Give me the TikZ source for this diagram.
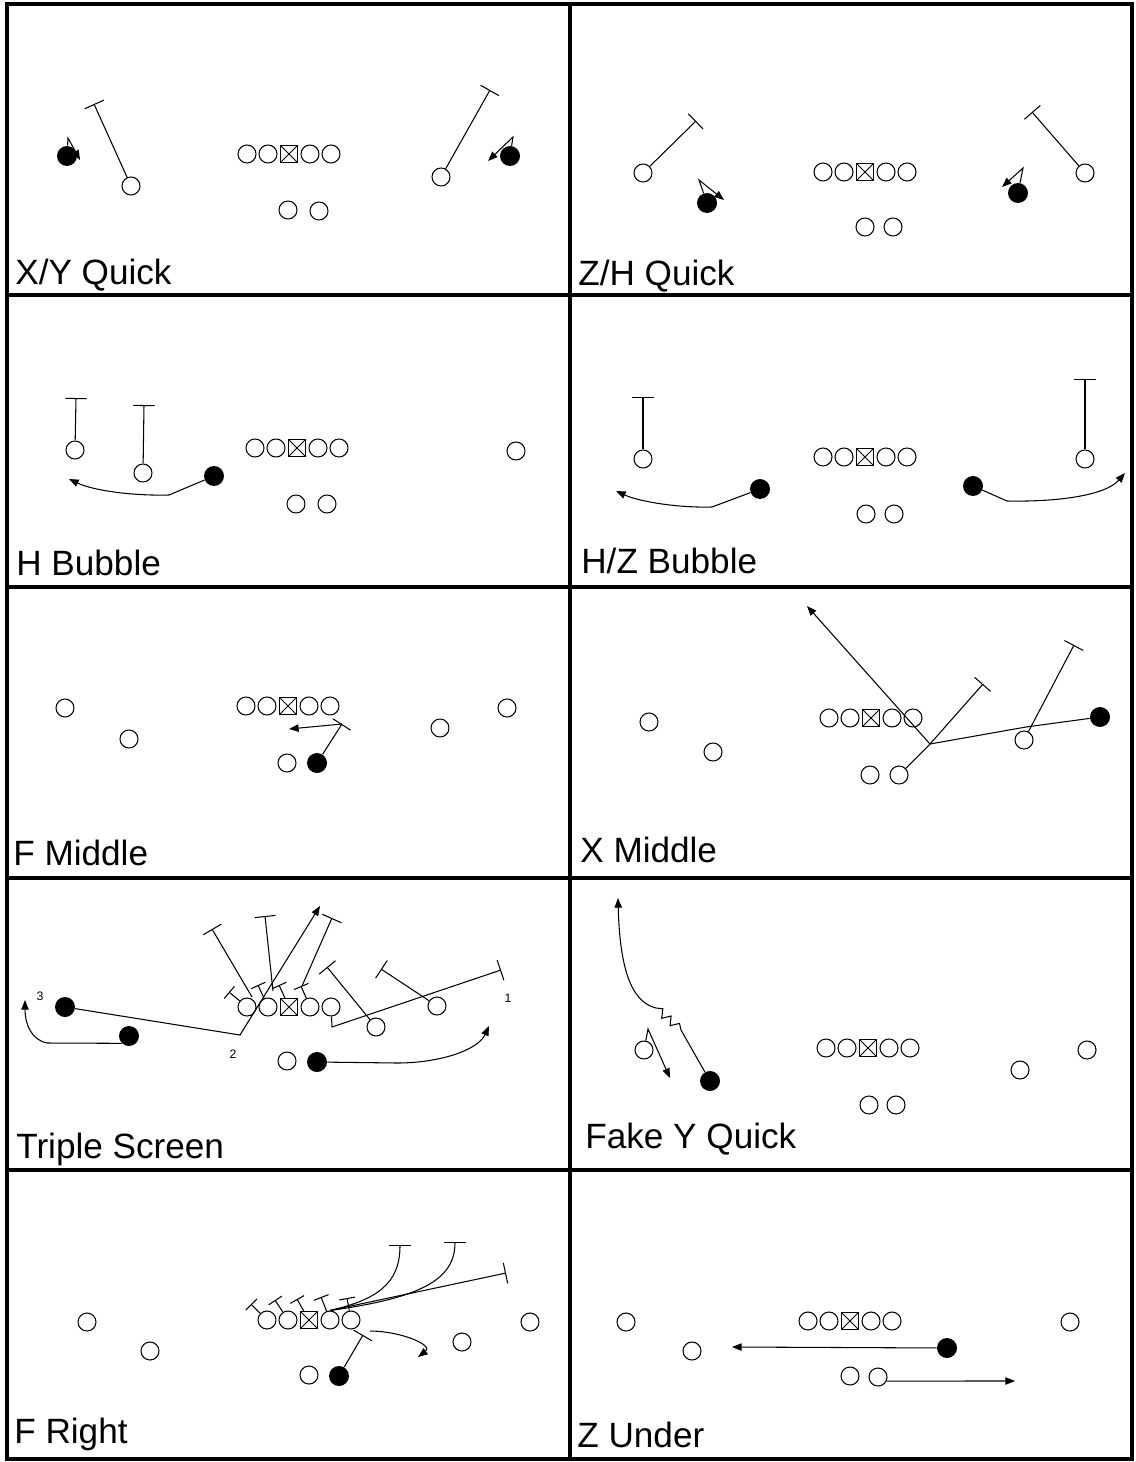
\documentclass[tikz,border=0pt]{standalone}
\usepackage{fontspec}
\setmainfont{Liberation Sans}
\usetikzlibrary{arrows.meta}
\tikzset{
  o/.style={draw, circle, line width=0.6pt, minimum size=0.36cm, inner sep=0pt},
  f/.style={fill=black, circle, minimum size=0.40cm, inner sep=0pt},
  ctr/.style={draw, rectangle, line width=0.7pt, minimum size=0.34cm, inner sep=0pt,
    path picture={\draw[line width=0.5pt] (path picture bounding box.north west) -- (path picture bounding box.south east)
      (path picture bounding box.south west) -- (path picture bounding box.north east);}},
  rt/.style={line width=0.6pt},
  arr/.style={rt, -{Triangle[length=5.5pt,width=4.2pt]}},
  tee/.style={rt, -{Bar[width=12pt]}},
  stee/.style={rt, -{Bar[width=9pt]}},
  lbl/.style={anchor=base west, inner sep=0pt, font=\fontsize{20}{23}\selectfont},
  num/.style={inner sep=0pt, font=\fontsize{7}{8}\selectfont},
  border/.style={line width=1.8pt}
}
\newcommand\OLine[3]{%
  \node[o] (#1a) at (#2-42,#3) {};
  \node[o] (#1b) at (#2-21,#3) {};
  \node[ctr] (#1c) at (#2,#3) {};
  \node[o] (#1d) at (#2+21,#3) {};
  \node[o] (#1e) at (#2+42,#3) {};
}
\begin{document}
\begin{tikzpicture}[x=0.02cm,y=-0.02cm]
\useasboundingbox (0,0) rectangle (1135,1462);
\fill[white] (0,0) rectangle (1135,1462);
% grid
\draw[border] (7,4) rectangle (1132,1459);
\draw[border] (570,4) -- (570,1459);
\foreach \yy in {295,587,878,1170} \draw[border] (7,\yy) -- (1132,\yy);

% ---------- Panel 1: X/Y Quick
\OLine{p1}{289}{154}
\node[o] (p1f) at (288,210) {};
\node[o] (p1g) at (319,211) {};
\node[f] (p1x) at (67,156) {};
\node[o] (p1y) at (131,186) {};
\node[o] (p1z) at (441,177) {};
\node[f] (p1h) at (510,156) {};
\coordinate (q1a) at (68,138); \coordinate (q1b) at (80,160);
\coordinate (q1c) at (94,104);
\coordinate (q1d) at (490,90);
\coordinate (q1e) at (513,137); \coordinate (q1f) at (488,161);
\draw[arr] (p1x) -- (q1a) -- (q1b);
\draw[tee] (p1y) -- (q1c);
\draw[tee] (p1z) -- (q1d);
\draw[arr] (p1h) -- (q1e) -- (q1f);
\node[lbl] (l1) at (15,285) {X/Y Quick};

% ---------- Panel 2: Z/H Quick
\OLine{p2}{865}{172}
\node[o] (p2f) at (865,227) {};
\node[o] (p2g) at (893,227) {};
\node[o] (p2y) at (643,173) {};
\node[f] (p2x) at (707,203) {};
\node[f] (p2h) at (1018,193) {};
\node[o] (p2z) at (1085,173) {};
\coordinate (q2a) at (699,180); \coordinate (q2b) at (724,200);
\coordinate (q2c) at (696,121);
\coordinate (q2d) at (1032,112);
\coordinate (q2e) at (1023,168); \coordinate (q2f) at (1002,187);
\draw[tee] (p2y) -- (q2c);
\draw[arr] (p2x) -- (q2a) -- (q2b);
\draw[arr] (p2h) -- (q2e) -- (q2f);
\draw[tee] (p2z) -- (q2d);
\node[lbl] (l2) at (578,286) {Z/H Quick};

% ---------- Panel 3: H Bubble
\OLine{p3}{297}{448}
\node[o] (p3f) at (296,504) {};
\node[o] (p3g) at (327,504) {};
\node[o] (p3y) at (75,450) {};
\node[o] (p3w) at (143,473) {};
\node[f] (p3x) at (214,476) {};
\node[o] (p3z) at (516,451) {};
\coordinate (q3c) at (76,398);
\coordinate (q3d) at (144,405);
\coordinate (q3a) at (169,495); \coordinate (q3b) at (69,479);
\draw[tee] (p3y) -- (q3c);
\draw[tee] (p3w) -- (q3d);
\draw[arr] (p3x) -- (q3a) .. controls (130,496) and (92,490) .. (q3b);
\node[lbl] (l3) at (16,575) {H Bubble};

% ---------- Panel 4: H/Z Bubble
\OLine{p4}{865}{457}
\node[o] (p4f) at (866,514) {};
\node[o] (p4g) at (894,514) {};
\node[o] (p4y) at (643,459) {};
\node[f] (p4x) at (760,489) {};
\node[f] (p4h) at (973,486) {};
\node[o] (p4z) at (1085,459) {};
\coordinate (q4e) at (643,397);
\coordinate (q4f) at (1085,379);
\coordinate (q4a) at (712,507); \coordinate (q4b) at (616,491);
\coordinate (q4c) at (1007,501); \coordinate (q4d) at (1125,473);
\draw[tee] (p4y) -- (q4e);
\draw[tee] (p4z) -- (q4f);
\draw[arr] (p4x) -- (q4a) .. controls (680,508) and (640,502) .. (q4b);
\draw[arr] (p4h) -- (q4c) .. controls (1055,502) and (1105,496) .. (q4d);
\node[lbl] (l4) at (581,573) {H/Z Bubble};

% ---------- Panel 5: F Middle
\OLine{p5}{288}{706}
\node[o] (p5y) at (65,708) {};
\node[o] (p5w) at (129,739) {};
\node[o] (p5f) at (287,763) {};
\node[f] (p5x) at (317,763) {};
\node[o] (p5v) at (440,728) {};
\node[o] (p5z) at (507,708) {};
\coordinate (q5a) at (342,724); \coordinate (q5b) at (289,729);
\draw[tee] (p5x) -- (q5a);
\draw[arr] (q5a) -- (q5b);
\node[lbl] (l5) at (13,865) {F Middle};

% ---------- Panel 6: X Middle
\OLine{p6}{871}{718}
\node[o] (p6y) at (649,722) {};
\node[o] (p6v) at (713,752) {};
\node[o] (p6f) at (870,775) {};
\node[o] (p6g) at (899,775) {};
\node[f] (p6x) at (1100,717) {};
\node[o] (p6w) at (1024,740) {};
\coordinate (q6a) at (1026,727); \coordinate (q6b) at (930,744);
\coordinate (q6c) at (807,606); \coordinate (q6d) at (983,684);
\coordinate (q6e) at (1074,645);
\draw[arr] (p6x) -- (q6a) -- (q6b) -- (q6c);
\draw[tee] (p6g) -- (q6b) -- (q6d);
\draw[tee] (p6w) -- (q6e);
\node[lbl] (l6) at (580,862) {X Middle};

% ---------- Panel 7: Triple Screen
\OLine{p7}{289}{1007}
\node[f] (p7x) at (65,1007) {};
\node[f] (p7u) at (129,1036) {};
\node[o] (p7f) at (287,1061) {};
\node[f] (p7g) at (317,1062) {};
\node[o] (p7v) at (376,1027) {};
\node[o] (p7w) at (437,1006) {};
\node[num] (n7a) at (40,996) {3};
\node[num] (n7b) at (233,1054) {2};
\node[num] (n7c) at (508,998) {1};
\coordinate (q7a) at (240,1035); \coordinate (q7b) at (320,906);
\coordinate (q7c) at (47,1043); \coordinate (q7d) at (25,1000);
\coordinate (q7e) at (397,1063); \coordinate (q7f) at (489,1026);
\coordinate (q7g) at (332,1027);
\coordinate (s7a) at (252,997); \coordinate (t7a) at (212,929);
\coordinate (s7b) at (273,991); \coordinate (t7b) at (265,916);
\coordinate (s7c) at (302,986); \coordinate (t7c) at (332,918);
\coordinate (t7d) at (327,967);
\coordinate (t7e) at (381,969);
\coordinate (t7f) at (501,970);
\coordinate (t7g) at (229,992);
\coordinate (t7h) at (258,985);
\coordinate (t7i) at (279,985);
\coordinate (t7j) at (301,986);
\draw[arr] (p7x) -- (q7a) -- (q7b);
\draw[arr] (p7u.225) -- (q7c) .. controls (32,1040) and (25,1025) .. (q7d);
\draw[arr] (p7g) -- (q7e) .. controls (440,1063) and (478,1050) .. (q7f);
\draw[tee] (s7a) -- (t7a);
\draw[tee] (s7b) -- (t7b);
\draw[tee] (s7c) -- (t7c);
\draw[tee] (p7v) -- (t7d);
\draw[tee] (p7w) -- (t7e);
\draw[tee] (p7e) -- (q7g) -- (t7f);
\draw[stee] (p7a) -- (t7g);
\draw[stee] (p7b) -- (t7h);
\draw[stee] (p7c) -- (t7i);
\draw[stee] (p7d) -- (t7j);
\node[lbl] (l7) at (16,1158) {Triple Screen};

% ---------- Panel 8: Fake Y Quick
\OLine{p8}{868}{1048}
\node[o] (p8f) at (869,1105) {};
\node[o] (p8g) at (896,1105) {};
\node[o] (p8w) at (644,1050) {};
\node[f] (p8x) at (710,1081) {};
\node[o] (p8v) at (1020,1070) {};
\node[o] (p8z) at (1087,1050) {};
\coordinate (q8a) at (681,1030); \coordinate (q8b) at (656,1008);
\coordinate (q8c) at (618,898);
\coordinate (q8d) at (648,1029); \coordinate (q8e) at (670,1078);
\draw[arr] (p8x) -- (q8a) -- (679.5,1023.4) -- (670.1,1025.7) -- (671.1,1016) -- (661.7,1018.3) -- (662.8,1008.7) -- (q8b)
  .. controls (636,1003) and (620,980) .. (q8c);
\draw[arr] (p8w) -- (q8d) -- (q8e);
\node[lbl] (l8) at (585,1148) {Fake Y Quick};

% ---------- Panel 9: F Right
\OLine{p9}{309}{1320}
\node[o] (p9y) at (87,1322) {};
\node[o] (p9w) at (150,1351) {};
\node[o] (p9f) at (309,1375) {};
\node[f] (p9x) at (339,1376) {};
\node[o] (p9v) at (462,1342) {};
\node[o] (p9z) at (530,1322) {};
\coordinate (q9a) at (363,1335);
\coordinate (q9b) at (370,1331); \coordinate (q9c) at (418,1357);
\coordinate (t9a) at (400,1245); \coordinate (t9b) at (455,1242); \coordinate (t9c) at (506,1273);
\coordinate (t9d) at (251,1304); \coordinate (t9e) at (275,1300); \coordinate (t9f) at (297,1299);
\coordinate (t9g) at (321,1297); \coordinate (t9h) at (347,1298);
\draw[tee] (p9x) -- (q9a);
\draw[arr] (q9b) .. controls (400,1331) and (434,1345) .. (q9c);
\draw[stee] (p9a) -- (t9d);
\draw[stee] (p9b) -- (t9e);
\draw[stee] (p9c) -- (t9f);
\draw[stee] (p9d) -- (t9g);
\draw[stee] (p9e) -- (t9h);
\draw[tee] (p9d.north) .. controls (375,1300) and (400,1285) .. (t9a);
\draw[tee] (p9d.north) .. controls (420,1298) and (455,1280) .. (t9b);
\draw[tee] (p9d.north) -- (t9c);
\node[lbl] (l9) at (14,1443) {F Right};

% ---------- Panel 10: Z Under
\OLine{p10}{850}{1321}
\node[o] (p10y) at (626,1322) {};
\node[o] (p10w) at (692,1351) {};
\node[o] (p10f) at (850,1376) {};
\node[o] (p10g) at (878,1377) {};
\node[f] (p10x) at (947,1348) {};
\node[o] (p10z) at (1070,1322) {};
\coordinate (q10a) at (732,1347); \coordinate (q10b) at (1015,1381);
\draw[arr] (p10x) -- (q10a);
\draw[arr] (p10g.-25) -- (q10b);
\node[lbl] (l10) at (577,1447) {Z Under};
\end{tikzpicture}
\end{document}
